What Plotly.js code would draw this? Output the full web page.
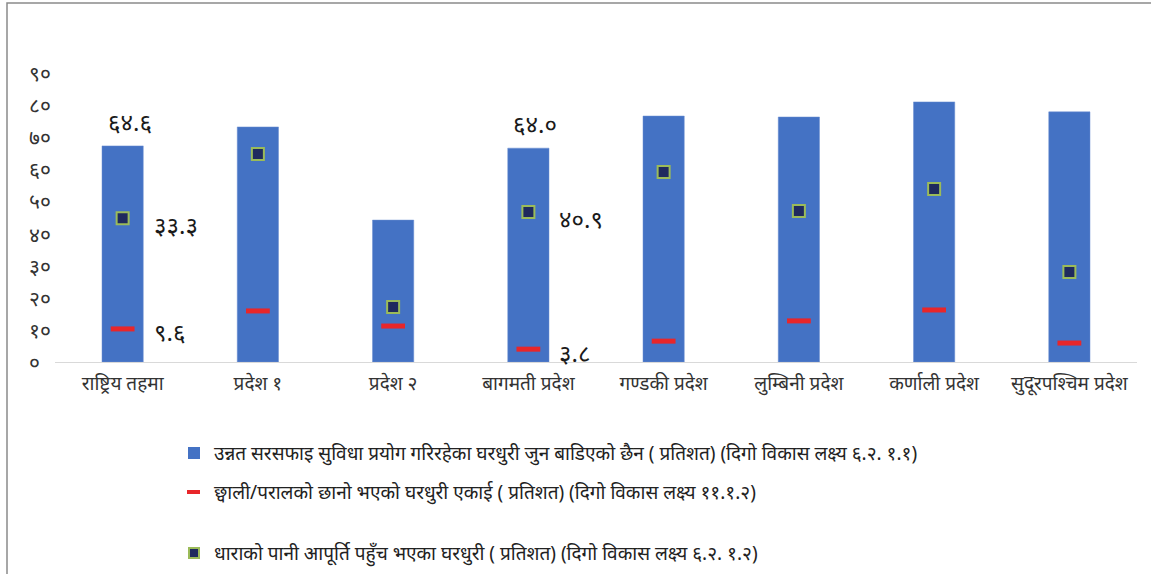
<!DOCTYPE html>
<html>
<head>
<meta charset="utf-8">
<script src="https://cdn.plot.ly/plotly-3.0.1.min.js"></script>
<style>html,body{margin:0;padding:0;background:#fff;}#chart{width:1151px;height:574px;}</style>
</head>
<body>
<div id="chart"></div>
<script>
// ---- data ----
const categories = ['राष्ट्रिय तहमा','प्रदेश १','प्रदेश २','बागमती प्रदेश','गण्डकी प्रदेश','लुम्बिनी प्रदेश','कर्णाली प्रदेश','सुदूरपश्चिम प्रदेश'];
const sanitationValues = [67.3, 73.2, 44.2, 66.6, 76.6, 76.3, 81.0, 77.9];
const thatchRoofValues = [10.3, 15.9, 11.2, 4.0, 6.5, 12.8, 16.2, 5.9];
const tapWaterValues = [44.8, 64.8, 17.1, 46.7, 59.2, 47.0, 53.9, 28.0];
const sanitationLabels = ['६४.६','','','६४.०','','','',''];
const thatchRoofLabels = ['९.६','','','३.८','','','',''];
const tapWaterLabels = ['३३.३','','','४०.९','','','',''];
const yTickVals = [0,10,20,30,40,50,60,70,80,90];
const yTickText = ['०','१०','२०','३०','४०','५०','६०','७०','८०','९०'];
const legendNames = [
  'उन्नत सरसफाइ सुविधा प्रयोग गरिरहेका घरधुरी जुन बाडिएको छैन ( प्रतिशत) (दिगो विकास लक्ष्य ६.२. १.१)',
  'छ्वाली/परालको छानो भएको घरधुरी एकाई ( प्रतिशत) (दिगो विकास लक्ष्य ११.१.२)',
  'धाराको पानी आपूर्ति पहुँच भएका घरधुरी ( प्रतिशत) (दिगो विकास लक्ष्य ६.२. १.२)'
];

const FONT = 'Noto Sans, sans-serif';
const W = 1151, H = 574;
const mL = 55, mR = 14, mT = 73, mB = 212;
const pw = W - mL - mR, ph = H - mT - mB;
const px = x => (x - mL) / pw;
const py = y => (H - mB - y) / ph;

const traces = [
  {type:'bar', x:categories, y:sanitationValues, name:legendNames[0], width:0.305,
   marker:{color:'#4472C4', line:{color:'#6b8fd0', width:0.5}}, hoverinfo:'x+y'},
  {type:'scatter', mode:'markers', x:categories, y:thatchRoofValues, name:legendNames[1],
   marker:{symbol:'line-ew', size:17, line:{color:'#E8262A', width:5}}},
  {type:'scatter', mode:'markers', x:categories, y:tapWaterValues, name:legendNames[2],
   marker:{symbol:'square', size:12, color:'#1F2A5E', line:{color:'#9BBB59', width:2}}}
];

const annotations = [];
// y tick labels, left aligned like the reference
yTickVals.forEach((v,i)=>{
  annotations.push({xref:'paper', yref:'y', x:px(27), y:v, text:yTickText[i], showarrow:false,
    xanchor:'left', yanchor:'middle', font:{family:FONT, size:21, color:'#333'}});
});
// data labels
const lblFont = {family:FONT, size:24, color:'#1a1a1a'};
categories.forEach((c,i)=>{
  if (sanitationLabels[i]) annotations.push({x:c, y:sanitationValues[i], text:sanitationLabels[i], showarrow:false,
    xanchor:'center', yanchor:'bottom', xshift:7, yshift:6, font:lblFont});
  if (tapWaterLabels[i]) annotations.push({x:c, y:tapWaterValues[i], text:tapWaterLabels[i], showarrow:false,
    xanchor:'left', yanchor:'middle', xshift:29, yshift:-6, font:lblFont});
  if (thatchRoofLabels[i]) annotations.push({x:c, y:thatchRoofValues[i], text:thatchRoofLabels[i], showarrow:false,
    xanchor:'left', yanchor:'middle', xshift:29, yshift:-3, font:lblFont});
});
// manual legend texts
const legY = [453, 492, 553];
legendNames.forEach((t,i)=>{
  annotations.push({xref:'paper', yref:'paper', x:px(212), y:py(legY[i]), text:t, showarrow:false,
    xanchor:'left', yanchor:'middle', font:{family:FONT, size:19, color:'#222'}});
});

const shapes = [
  // outer frame
  {type:'rect', xref:'paper', yref:'paper', x0:px(7), x1:px(1170), y0:py(3), y1:py(600),
   line:{color:'#8a8a8a', width:1.5}, fillcolor:'rgba(0,0,0,0)', layer:'below'},
  // legend swatches
  {type:'rect', xref:'paper', yref:'paper', x0:px(188), x1:px(200), y0:py(459), y1:py(447),
   fillcolor:'#4472C4', line:{width:0}},
  {type:'rect', xref:'paper', yref:'paper', x0:px(187), x1:px(200), y0:py(494), y1:py(490),
   fillcolor:'#E8262A', line:{width:0}},
  {type:'rect', xref:'paper', yref:'paper', x0:px(189), x1:px(199), y0:py(558), y1:py(548),
   fillcolor:'#1F2A5E', line:{color:'#9BBB59', width:2}}
];

const layout = {
  width:W, height:H,
  margin:{l:mL, r:mR, t:mT, b:mB, pad:0},
  paper_bgcolor:'#fff', plot_bgcolor:'#fff',
  showlegend:false,
  font:{family:FONT, color:'#333'},
  xaxis:{type:'category', showgrid:false, zeroline:false, showline:true, linecolor:'#D9D9D9', linewidth:1,
    ticks:'', tickfont:{family:FONT, size:19, color:'#333'}, ticklabelstandoff:4, fixedrange:true},
  yaxis:{range:[0,90], showgrid:false, zeroline:false, showline:false, showticklabels:false,
    tickvals:yTickVals, ticktext:yTickText, fixedrange:true},
  annotations:annotations,
  shapes:shapes
};

Plotly.newPlot('chart', traces, layout, {displayModeBar:false, staticPlot:true});
</script>
</body>
</html>
